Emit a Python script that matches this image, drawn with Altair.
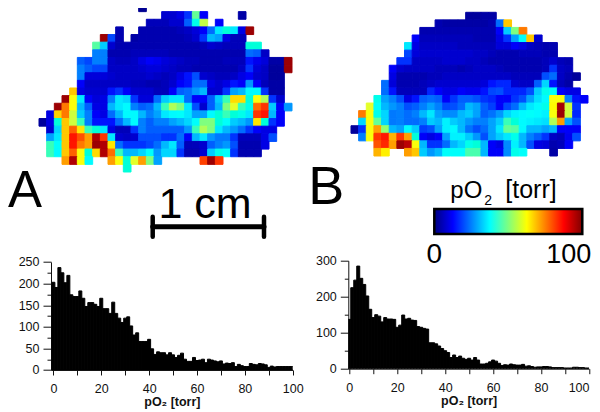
import altair as alt
import pandas as pd

# Oxygen maps: (first column, values along the row); None = no tissue
MAP_A = [
    (13, [2]),
    (16, [8, 8, 10, 15, 48, 12, None, None, None, None, 4]),
    (14, [6, 6, 6, 8, 8, 20, 40, 57, None, 12]),
    (10, [5, None, None, 5, 5, 5, 5, 5, 6, 7, 9, 12, 22, 35, 42, 35, 10, 97]),
    (8, [97, 17, 5, None, 4, 5, 5, 5, 5, 5, 5, 6, 8, 15, 30, 28, 10, 6, 6]),
    (7, [47, 32, 8, 5, 5, 5, 5, 5, 5, 5, 5, 5, 5, 5, 6, 8, 7, 6, 6, 6, 42, 42]),
    (7, [25, 25, 5, 5, 5, 6, 6, 6, 6, 6, 5, 5, 5, 5, 5, 5, 5, 5, 5, 5, 22, 20, 7]),
    (5, [20, 17, 25, 25, 7, 6, 6, 7, 10, 12, 11, 9, 8, 7, 6, 6, 5, 5, 5, 6, 6, 6, 13, 11, 9, 4, 4, 97]),
    (5, [25, 20, 17, 17, 7, 7, 7, 7, 8, 9, 9, 8, 7, 6, 6, 5, 5, 5, 5, 5, 5, 7, 15, 9, 7, 3, 3, 97]),
    (5, [25, 9, 9, 9, 8, 7, 7, 7, 7, 8, 7, 6, 7, 10, 13, 18, 8, 7, 6, 6, 7, 10, 12, 8, 7, 3, 3]),
    (5, [12, 7, 7, 7, 7, 7, 7, 6, 6, 5, 5, 6, 8, 12, 13, 22, 22, 10, 8, 10, 13, 12, 27, 12, 6, 4, 4]),
    (4, [68, 10, 8, 8, 8, 13, 15, 12, 8, 8, 8, 6, 6, 12, 20, 22, 27, 30, 8, 8, 15, 28, 30, 37, 37, 15, 4, 4]),
    (3, [97, 62, 35, 12, 9, 10, 25, 35, 33, 15, 9, 9, 22, 32, 35, 35, 22, 12, 12, 20, 32, 45, 66, 66, 42, 62, 55, 15, 8]),
    (2, [97, 76, 62, 30, 20, 10, 10, 30, 35, 37, 25, 20, 22, 30, 45, 55, 50, 35, 18, 8, 20, 30, 50, 60, 45, 40, 78, 85, 32, 12, 27]),
    (1, [10, 67, 76, 58, 32, 25, 12, 10, 22, 30, 37, 37, 30, 25, 28, 35, 37, 38, 35, 28, 28, 37, 42, 45, 42, 40, 35, 85, 87, 30, 12]),
    (0, [3, 10, 42, 68, 58, 45, 25, 13, 13, 13, 22, 30, 37, 25, 20, 25, 25, 28, 30, 33, 38, 50, 50, 42, 38, 32, 30, 27, 65, 42, 15, 12]),
    (1, [8, 33, 68, 80, 65, 45, 42, 35, 10, 6, 6, 15, 25, 20, 20, 20, 20, 20, 27, 45, 55, 50, 35, 30, 27, 22, 15, 12, 10, 10]),
    (1, [28, 35, 68, 87, 82, 72, 95, 85, 35, 8, 7, 8, 18, 18, 18, 15, 15, 22, 12, 30, 35, 27, 24, 24, 15, 6, 6, 6, 10, 18]),
    (1, [45, 38, 68, 87, 76, 72, 97, 95, 65, 22, 15, 15, 15, 17, 22, 30, 35, 20, 6, 6, 8, 20, 25, 27, 18, 5, 5, 5, 10]),
    (1, [45, 37, 68, 80, 62, 42, 66, 95, 78, 45, 30, 30, 33, 38, 27, 33, 33, 15, 5, 5, 8, 32, 40, 38, 15, 5, 5, 5]),
    (3, [72, 95, 62, 37, None, None, 72, 62, 42, 60, 72, 50, 28, None, None, None, None, None, 84, 97, 85]),
    (11, [42]),
]

MAP_B = [
    (15, [3, 3, 4, 4]),
    (11, [5, 4, 4, 4, 4, 4, 4, 5, 22, 68]),
    (9, [5, 5, 5, 5, 5, 5, 5, 5, 5, 5, 12, 32, 50, 76]),
    (8, [12, 6, 6, 6, 6, 6, 6, 6, 5, 5, 5, 10, 15, 28, 38, 68, 8]),
    (7, [35, 10, 7, 7, 7, 7, 7, 6, 6, 6, 6, 6, 9, 9, 12, 10, 7, 6, 5, 5]),
    (7, [17, 9, 8, 8, 8, 8, 8, 8, 8, 7, 7, 6, 5, 5, 5, 6, 6, 6, 5, 5]),
    (6, [15, 15, 7, 7, 7, 7, 8, 8, 8, 7, 7, 6, 5, 5, 5, 5, 5, 5, 5, 6, 8, 6, 5]),
    (5, [12, 8, 7, 7, 7, 7, 6, 6, 6, 5, 6, 7, 7, 7, 6, 5, 5, 5, 5, 5, 6, 15, 7, 6]),
    (5, [10, 5, 5, 5, 5, 6, 6, 7, 7, 7, 7, 7, 7, 7, 7, 7, 6, 6, 6, 6, 18, 22, 7, 5, 3]),
    (4, [22, 9, 5, 5, 5, 6, 7, 8, 8, 8, 8, 8, 8, 9, 13, 14, 14, 8, 7, 7, 20, 33, 13, 6, 4]),
    (4, [22, 13, 6, 6, 6, 6, 14, 12, 10, 10, 12, 11, 11, 13, 17, 18, 14, 14, 14, 18, 32, 40, 38, 12, 10, 10]),
    (3, [40, 28, 25, 18, 10, 13, 20, 22, 20, 12, 15, 20, 20, 18, 15, 14, 12, 12, 15, 18, 28, 34, 37, 62, 62, 25, 13, 12]),
    (2, [60, 38, 30, 27, 25, 18, 20, 25, 28, 25, 17, 18, 22, 30, 28, 20, 16, 12, 17, 22, 30, 35, 37, 40, 63, 96, 58, 15]),
    (1, [76, 62, 40, 33, 24, 25, 22, 25, 30, 35, 28, 26, 26, 30, 32, 28, 20, 23, 27, 33, 36, 37, 38, 37, 36, 62, 97, 58, 14]),
    (1, [33, 62, 48, 33, 24, 25, 22, 22, 25, 32, 30, 36, 32, 30, 27, 25, 25, 28, 32, 45, 42, 37, 36, 35, 34, 55, 72, 28, 18]),
    (0, [3, 15, 62, 72, 52, 30, 28, 37, 32, 16, 18, 28, 36, 37, 30, 23, 18, 22, 28, 35, 48, 47, 37, 30, 30, 28, 30, 12, 12, 12]),
    (1, [25, 62, 85, 87, 70, 85, 72, 42, 12, 10, 12, 28, 36, 36, 32, 27, 18, 28, 32, 35, 40, 30, 25, 20, 15, 7, 6, 11, 18]),
    (3, [82, 86, 72, 97, 94, 62, 30, 15, 15, 22, 30, 33, 40, 42, 30, 12, 10, 26, 36, 30, 18, 10, 9, 5, 6, 12]),
    (3, [70, 64, None, None, 72, 68, 32, 27, 30, 38, 38, 38, 46, 46, 30, 12, 12, 26, 40, 38, None, None, None, 4]),
]

# Histograms: counts per 1.25 torr bin
BIN_WIDTH = 1.25
COUNTS_A = [203, 191, 237, 225, 202, 219, 174, 170, 170, 183, 166, 147, 156, 156, 152, 147, 166,
            142, 142, 131, 157, 131, 120, 110, 120, 123, 102, 81, 86, 66, 66, 66, 71, 49, 36, 42,
            40, 40, 35, 40, 35, 29, 34, 39, 25, 20, 20, 29, 22, 23, 25, 17, 25, 23, 21, 19, 21,
            14, 16, 15, 17, 8, 13, 10, 8, 8, 15, 13, 12, 15, 14, 12, 6, 9, 7, 8, 8, 8, 8, 8, 8]
COUNTS_B = [137, 225, 246, 285, 251, 234, 202, 165, 142, 150, 146, 130, 142, 138, 138, 137, 115,
            121, 149, 138, 140, 135, 134, 117, 115, 112, 110, 72, 72, 69, 63, 56, 50, 45, 31, 38,
            31, 35, 29, 26, 29, 24, 31, 24, 13, 13, 15, 19, 24, 21, 15, 9, 11, 10, 13, 11, 10,
            10, 12, 7, 8, 6, 4, 5, 5, 6, 6, 5, 3, 3, 3, 3, 2, 2, 2, 4, 4, 3, 3, 2, 2]

JET_COLORS = ["#00007f", "#0000ff", "#007fff", "#00ffff", "#7fff7f", "#ffff00", "#ff7f00", "#ff0000", "#7f0000"]
JET_STOPS = [0, 12.5, 25, 37.5, 50, 62.5, 75, 87.5, 100]
FONT = "Liberation Sans"
INK = "#111111"
X_TICKS = [0, 10, 20, 30, 40, 50, 60, 70, 80, 90, 100]


def cells(rows):
    out = []
    for r, (start, values) in enumerate(rows):
        for i, v in enumerate(values):
            if v is not None:
                out.append({"col": start + i, "col_end": start + i + 1, "row": r, "row_end": r + 1, "v": v})
    return pd.DataFrame(out)


def heat(rows, ncol, xrange, yrange):
    scale = alt.Scale(domain=JET_STOPS, range=JET_COLORS)
    return alt.Chart(cells(rows)).mark_rect(strokeWidth=1).encode(
        x=alt.X("col:Q", axis=None, scale=alt.Scale(domain=[0, ncol], range=xrange, nice=False, zero=False)),
        x2="col_end:Q",
        y=alt.Y("row:Q", axis=None, scale=alt.Scale(domain=[0, len(rows)], range=yrange, nice=False, zero=False)),
        y2="row_end:Q",
        color=alt.Color("v:Q", scale=scale, legend=None),
        stroke=alt.Stroke("v:Q", scale=scale, legend=None),
    )


def hist(counts, xmin, width, height, ymax, ytop, yticks, major, end_align):
    df = pd.DataFrame({"lo": [i * BIN_WIDTH - BIN_WIDTH / 2 for i in range(len(counts))], "n": counts})
    df["hi"] = df["lo"] + BIN_WIDTH
    df["base"] = 0
    return alt.Chart(df).mark_rect(color="black", stroke="black", strokeWidth=1, clip=True).encode(
        x=alt.X("lo:Q", scale=alt.Scale(domain=[xmin, 100], nice=False, zero=False),
                axis=alt.Axis(values=X_TICKS, title="pO₂ [torr]", grid=False, tickSize=5, tickColor=INK,
                              domainColor=INK, labelExpr="datum.value % 20 === 0 ? datum.label : ''",
                              labelAlign=alt.expr(f"datum.value === 100 ? '{end_align}' : 'center'"),
                              labelFont=FONT, labelFontSize=12.5, labelColor=INK, labelPadding=8,
                              labelFlush=False, labelOverlap=False, titleFont=FONT, titleFontSize=12.5,
                              titleFontWeight="bold", titleColor=INK, titlePadding=0)),
        x2="hi:Q",
        y=alt.Y("n:Q", scale=alt.Scale(domain=[0, ymax], range=[height, ytop], nice=False),
                axis=alt.Axis(values=yticks, title=None, grid=False, tickColor=INK, domainColor=INK,
                              tickSize=alt.expr(f"datum.value % {major} === 0 ? 8 : 4"),
                              labelExpr=f"datum.value % {major} === 0 ? datum.label : ''",
                              labelFlush=False, labelFont=FONT, labelFontSize=12.5, labelColor=INK,
                              labelPadding=4, labelOverlap=False)),
        y2="base:Q",
    ).properties(width=width, height=height)


def note(text, x, y, size, align="center"):
    return alt.Chart(alt.Data(values=[{"t": text}])).mark_text(
        font=FONT, fontSize=size, color="black", align=align, baseline="alphabetic"
    ).encode(text="t:N", x=alt.value(x), y=alt.value(y))


def seg(x, x2, y, y2, width):
    return alt.Chart(alt.Data(values=[{}])).mark_rule(color="black", strokeWidth=width, strokeCap="round").encode(
        x=alt.value(x), x2=alt.value(x2), y=alt.value(y), y2=alt.value(y2)
    )


jet_gradient = alt.Gradient(
    gradient="linear", x1=0, x2=1, y1=0, y2=0,
    stops=[alt.GradientStop(color=c, offset=s / 100) for c, s in zip(JET_COLORS, JET_STOPS)],
)
color_bar = alt.Chart(alt.Data(values=[{}])).mark_rect(fill=jet_gradient, stroke="black", strokeWidth=2.5).encode(
    x=alt.value(86), x2=alt.value(234), y=alt.value(-51.7), y2=alt.value(-26.7)
)

panel_a = alt.layer(
    hist(COUNTS_A, -1, 241.7, 109.3, 250, 1.3, [0, 25, 50, 75, 100, 125, 150, 175, 200, 225, 250], 50, "center"),
    heat(MAP_A, 33, [-12, 241], [-256.7, -88.7]),
    note("A", -26, -54, 51),
    note("1 cm", 154, -42.4, 43),
    seg(101.7, 213, -34, -34, 5),
    seg(101.7, 101.7, -44, -24, 4.5),
    seg(213, 213, -44, -24, 4.5),
).resolve_scale(x="independent", y="independent", color="independent", stroke="independent")

panel_b = alt.layer(
    hist(COUNTS_B, -0.4, 240.7, 108, 300, 0, [0, 50, 100, 150, 200, 250, 300], 100, "right"),
    heat(MAP_B, 31, [2.7, 239.7], [-248.4, -104.7]),
    note("B", -22, -56.4, 54),
    note("pO", 102, -62.7, 24, "left"),
    note("2", 136, -55.7, 14, "left"),
    note("[torr]", 157, -62.7, 25, "left"),
    color_bar,
    note("0", 86, 2, 28),
    note("100", 220.5, 2, 27),
).resolve_scale(x="independent", y="independent", color="independent", stroke="independent")

chart = alt.hconcat(panel_a, panel_b, spacing=55.3, bounds="flush").properties(
    autosize=alt.AutoSizeParams(type="none"),
    padding={"left": 43, "top": 252.7, "right": 541, "bottom": 151},
).configure_view(stroke=None)

chart.save("out.html", embed_options={"renderer": "svg", "actions": False})
